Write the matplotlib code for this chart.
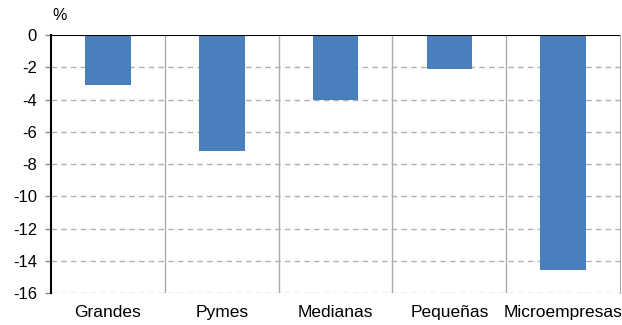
import numpy as np
import matplotlib.pyplot as plt

categories = ['Grandes', 'Pymes', 'Medianas', 'Pequeñas', 'Microempresas']
values = [-3.1, -7.2, -4.0, -2.1, -14.6]
yticks = [0, -2, -4, -6, -8, -10, -12, -14, -16]

plt.rcParams['font.family'] = ['Liberation Sans', 'DejaVu Sans']

fig = plt.figure(figsize=(6.22, 3.25), dpi=100)
ax = fig.add_axes([0.082, 0.0985, 0.915, 0.7935])

x = np.arange(len(categories))
ax.bar(x, values, width=0.4, color='#4a7fbe', zorder=3)

ax.set_xlim(-0.5, len(categories) - 0.5)
ax.set_ylim(-16, 0)
ax.set_yticks(yticks)
ax.set_yticklabels([str(v) for v in yticks], fontsize=12)
ax.set_xticks(x)
ax.set_xticklabels(categories, fontsize=12.5)
ax.tick_params(axis='x', length=0, pad=9)
ax.tick_params(axis='y', length=4, width=1, color='#888888', pad=6)

# dashed grid and category separators
for v in yticks[1:]:
    ax.axhline(v, color='#b0b0b0', lw=1, ls=(0, (4, 3)), zorder=1)
for sep in np.arange(0.5, len(categories) - 0.5, 1):
    ax.axvline(sep, color='#aaaaaa', lw=1, zorder=1)

ax.axhline(0, color='black', lw=1.5, zorder=4)
for s in ['top', 'bottom']:
    ax.spines[s].set_visible(False)
ax.spines['right'].set_color('#aaaaaa')
ax.spines['left'].set_color('black')
ax.spines['left'].set_linewidth(1.5)

ax.text(0.003, 1.045, '%', transform=ax.transAxes, fontsize=11.5, ha='left', va='bottom')

fig.savefig('out.png', dpi=100)
